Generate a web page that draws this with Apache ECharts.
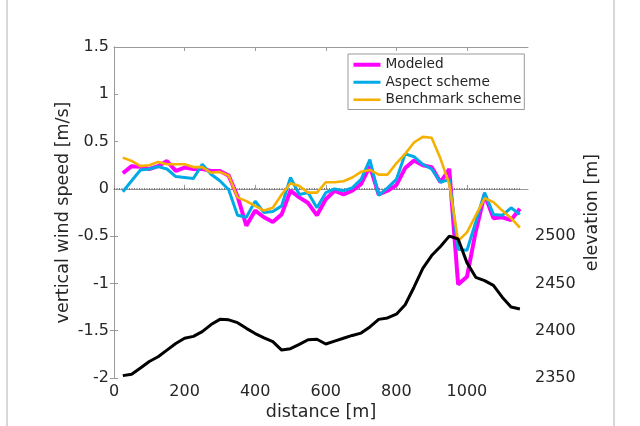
<!DOCTYPE html>
<html><head><meta charset="utf-8">
<script src="https://cdn.jsdelivr.net/npm/echarts@6/dist/echarts.min.js"></script>
<style>html,body{margin:0;padding:0;background:#fff;} #c{width:640px;height:426px;}</style>
</head><body><div id="c"></div>
<script>
const distance = [25,50,75,100,125,150,175,200,225,250,275,300,325,350,375,400,425,450,475,500,525,550,575,600,625,650,675,700,725,750,775,800,825,850,875,900,925,950,975,1000,1025,1050,1075,1100,1125,1150];
const modeled = [0.165,0.24,0.235,0.21,0.24,0.295,0.19,0.225,0.21,0.21,0.19,0.19,0.14,-0.08,-0.39,-0.23,-0.3,-0.35,-0.27,-0.02,-0.09,-0.15,-0.28,-0.11,-0.02,-0.06,-0.02,0.05,0.24,-0.06,-0.02,0.04,0.22,0.3,0.25,0.23,0.07,0.21,-1.01,-0.93,-0.45,-0.06,-0.31,-0.3,-0.33,-0.21];
const aspect = [-0.03,0.085,0.2,0.21,0.235,0.21,0.13,0.12,0.11,0.26,0.155,0.085,-0.01,-0.28,-0.3,-0.13,-0.25,-0.24,-0.18,0.12,-0.06,-0.04,-0.2,-0.04,0,-0.02,0.01,0.1,0.31,-0.07,0.01,0.1,0.37,0.34,0.26,0.21,0.07,0.1,-0.64,-0.65,-0.35,-0.04,-0.27,-0.28,-0.2,-0.27];
const benchmark = [0.33,0.295,0.24,0.25,0.285,0.26,0.26,0.26,0.23,0.23,0.17,0.18,0.14,-0.09,-0.13,-0.18,-0.23,-0.2,-0.06,0.06,0.03,-0.04,-0.04,0.07,0.07,0.08,0.12,0.18,0.2,0.15,0.15,0.27,0.37,0.49,0.55,0.54,0.32,0.05,-0.55,-0.46,-0.28,-0.1,-0.14,-0.23,-0.31,-0.41];
const elevation = [2352.5,2354,2360.5,2367.5,2372.5,2379.5,2386.5,2392,2394,2399,2406.5,2412,2411.5,2408.5,2402.5,2397,2392.5,2388.5,2379.5,2381,2385.5,2390.5,2391,2386,2389,2392,2395,2397.5,2404,2412,2413.5,2417.5,2427.5,2446,2466,2479.5,2489,2500,2497,2472,2456.5,2453,2448,2435.5,2425,2423];
const xTicks = [0,200,400,600,800,1000];
const elevTicks = [2350,2400,2450,2500];
const zeroLine = [[0,0],[1150,0]];
const seriesNames = ['Modeled','Aspect scheme','Benchmark scheme'];
const xTitle = 'distance [m]';
const yLeftTitle = 'vertical wind speed [m/s]';
const yRightTitle = 'elevation [m]';

const zip = (xs, ys) => xs.map((x, i) => [x, ys[i]]);
const plain = v => String(v);
const FONT = 'DejaVu Sans';
const TXT = '#262626';
const AX = '#9a9a9a';

const chart = echarts.init(document.getElementById('c'), null, {renderer: 'canvas'});
chart.setOption({
  animation: false,
  backgroundColor: '#fff',
  textStyle: {fontFamily: FONT},
  grid: {left: 114, right: 112, top: 47, bottom: 46, containLabel: false},
  legend: {
    data: seriesNames,
    orient: 'vertical',
    left: 348, top: 54,
    padding: [2, 3, 1, 3.5],
    itemWidth: 27, itemHeight: 12, itemGap: 0,
    backgroundColor: '#fff',
    borderColor: '#999', borderWidth: 1, borderRadius: 0,
    lineStyle: {width: 'inherit'},
    itemStyle: {color: 'rgba(0,0,0,0)', borderWidth: 0, opacity: 0},
    textStyle: {fontFamily: FONT, fontSize: 13.7, color: TXT, lineHeight: 17.5}
  },
  xAxis: [{
    type: 'value', min: 0, max: 1173, position: 'bottom',
    name: xTitle, nameLocation: 'middle', nameGap: 25, nameMoveOverlap: false,
    nameTextStyle: {fontFamily: FONT, fontSize: 17.5, color: TXT},
    axisLine: {show: true, lineStyle: {color: AX, width: 1}},
    axisTick: {show: true, inside: true, length: 4, customValues: xTicks, lineStyle: {color: AX}},
    axisLabel: {customValues: xTicks, formatter: plain, margin: 6, fontFamily: FONT, fontSize: 16, color: TXT},
    splitLine: {show: false}
  }, {
    type: 'value', min: 0, max: 1173, position: 'top',
    axisLine: {show: true, lineStyle: {color: AX, width: 1}},
    axisTick: {show: true, inside: true, length: 4, customValues: xTicks, lineStyle: {color: AX}},
    axisLabel: {show: false},
    splitLine: {show: false}
  }],
  yAxis: [{
    type: 'value', min: -2, max: 1.5, interval: 0.5, position: 'left',
    name: yLeftTitle, nameLocation: 'middle', nameGap: 42, nameRotate: 90, nameMoveOverlap: false,
    nameTextStyle: {fontFamily: FONT, fontSize: 17.5, color: TXT},
    axisLine: {show: true, lineStyle: {color: AX, width: 1}},
    axisTick: {show: true, inside: true, length: 4, lineStyle: {color: AX}},
    axisLabel: {formatter: plain, margin: 5, fontFamily: FONT, fontSize: 16, color: TXT},
    splitLine: {show: false}
  }, {
    type: 'value', min: 2350, max: 2700, position: 'right',
    name: yRightTitle, nameLocation: 'middle', nameGap: 55, nameRotate: 90, nameMoveOverlap: false,
    nameTextStyle: {fontFamily: FONT, fontSize: 17.5, color: TXT},
    axisLine: {show: true, lineStyle: {color: AX, width: 1}},
    axisTick: {show: true, inside: true, length: 4, customValues: elevTicks, lineStyle: {color: AX}},
    axisLabel: {customValues: elevTicks, formatter: plain, margin: 7, fontFamily: FONT, fontSize: 16, color: TXT},
    splitLine: {show: false}
  }],
  graphic: [
    {type: 'line', shape: {x1: 7, y1: 0, x2: 7, y2: 426}, style: {stroke: '#b0b0b0', lineWidth: 1}, silent: true},
    {type: 'line', shape: {x1: 614, y1: 0, x2: 614, y2: 426}, style: {stroke: '#b0b0b0', lineWidth: 1}, silent: true}
  ],
  series: [{
    name: 'zero', type: 'line', xAxisIndex: 0, yAxisIndex: 0, data: zeroLine,
    showSymbol: false, symbol: 'none', silent: true,
    lineStyle: {color: '#333', width: 1, type: [1, 1.5]}, z: 1
  }, {
    name: seriesNames[0], type: 'line', xAxisIndex: 0, yAxisIndex: 0, data: zip(distance, modeled),
    symbol: 'none', showSymbol: false, color: '#ff00ff',
    lineStyle: {color: '#ff00ff', width: 4}, z: 2
  }, {
    name: seriesNames[1], type: 'line', xAxisIndex: 0, yAxisIndex: 0, data: zip(distance, aspect),
    symbol: 'none', showSymbol: false, color: '#00aae6',
    lineStyle: {color: '#00aae6', width: 3}, z: 3
  }, {
    name: seriesNames[2], type: 'line', xAxisIndex: 0, yAxisIndex: 0, data: zip(distance, benchmark),
    symbol: 'none', showSymbol: false, color: '#f5b000',
    lineStyle: {color: '#f5b000', width: 2.6}, z: 4
  }, {
    name: 'elevation', type: 'line', xAxisIndex: 0, yAxisIndex: 1, data: zip(distance, elevation),
    symbol: 'none', showSymbol: false, color: '#000',
    lineStyle: {color: '#000', width: 3}, z: 5
  }]
});
</script>
</body></html>
